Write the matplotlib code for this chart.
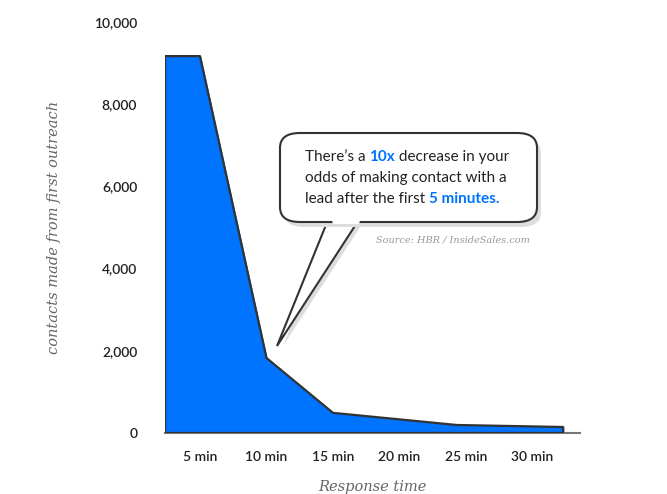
import matplotlib.pyplot as plt
from matplotlib.patches import FancyBboxPatch, Polygon
from matplotlib.offsetbox import TextArea, HPacker, VPacker, AnchoredOffsetbox

# data (minutes, contacts)
minutes = [2.37, 5, 10, 15, 24.3, 32.3, 32.3]
contacts = [9170, 9170, 1825, 490, 195, 146, 0]
tick_pos = [5, 10, 15, 20, 25, 30]
tick_labels = ['5 min', '10 min', '15 min', '20 min', '25 min', '30 min']
y_ticks = [0, 2000, 4000, 6000, 8000, 10000]
y_labels = ['0', '2,000', '4,000', '6,000', '8,000', '10,000']

W, H = 667, 494
fig = plt.figure(figsize=(W / 100, H / 100), dpi=100)
ax = fig.add_axes([165 / W, 1 - 433 / H, (580 - 165) / W, (433 - 22) / H])

def px(x, y):
    return (x / W, 1 - y / H)

blue = '#0073ff'
dark = '#333333'
ax.fill_between(minutes, contacts, 0, color=blue, zorder=2)
ax.plot(minutes + [2.37, 2.37], contacts + [0, 9170], color=dark, lw=1.6, zorder=3)
ax.set_xlim(2.37, 33.57)
ax.set_ylim(0, 10000)
for s in ['left', 'top', 'right']:
    ax.spines[s].set_visible(False)
ax.spines['bottom'].set_color('#777777')
ax.spines['bottom'].set_linewidth(1.5)
ax.set_xticks(tick_pos)
ax.set_xticklabels(tick_labels)
ax.set_yticks(y_ticks)
ax.set_yticklabels(y_labels)
ax.tick_params(length=0, labelsize=10, colors='#222222', pad=13)
ax.tick_params(axis='y', pad=20)
for lab in ax.get_xticklabels() + ax.get_yticklabels():
    lab.set_fontweight('semibold')
    lab.set_family('Lato')
ax.set_xlabel('Response time', fontsize=10.5, style='italic', family='DejaVu Serif',
              color='#666666', labelpad=12)
ax.set_ylabel('contacts made from first outreach', fontsize=10.5, style='italic',
              family='DejaVu Serif', color='#666666', labelpad=24)

# speech bubble
tail = [px(330, 215), px(277, 346), px(362, 215)]
fig.patches.append(Polygon([px(336, 215), px(283, 346), px(368, 215)], closed=True,
                           transform=fig.transFigure, fc='#dddddd', ec='none', zorder=5))
fig.patches.append(Polygon(tail, closed=True, transform=fig.transFigure,
                           fc='white', ec=dark, lw=1.5, zorder=6))
x0, y0 = px(280, 222)
x1, y1 = px(537, 133)
fig.patches.append(FancyBboxPatch((x0 + 4 / W, y0 - 5 / H), x1 - x0, y1 - y0,
                                  boxstyle='round,pad=0,rounding_size=0.03',
                                  transform=fig.transFigure, fc='#dddddd', ec='none', zorder=6))
fig.patches.append(FancyBboxPatch((x0, y0), x1 - x0, y1 - y0,
                                  boxstyle='round,pad=0,rounding_size=0.03',
                                  transform=fig.transFigure, fc='white', ec=dark, lw=1.5, zorder=7))
fig.patches.append(Polygon([px(331.5, 219), px(360.5, 219), px(359, 224), px(333, 224)],
                           closed=True, transform=fig.transFigure, fc='white', ec='none',
                           zorder=8))

def piece(t, c='#222222', w='normal'):
    return TextArea(t, textprops=dict(color=c, fontsize=11, fontweight=w, family='Lato'))

l1 = HPacker(children=[piece('There’s a '), piece('10x', blue, 'bold'),
                       piece(' decrease in your')], pad=0, sep=0)
l2 = piece('odds of making contact with a')
l3 = HPacker(children=[piece('lead after the first '), piece('5 minutes.', blue, 'bold')],
             pad=0, sep=0)
box = VPacker(children=[l1, l2, l3], pad=0, sep=5, align='left')
anc = AnchoredOffsetbox(loc='upper left', child=box, bbox_to_anchor=px(305, 150),
                        bbox_transform=fig.transFigure, frameon=False, pad=0, borderpad=0)
anc.set_zorder(9)
fig.add_artist(anc)

fig.text(*px(376, 240), 'Source: HBR / InsideSales.com', fontsize=7, style='italic',
         family='DejaVu Serif', color='#999999', va='center')

fig.savefig('out.png', dpi=100)
